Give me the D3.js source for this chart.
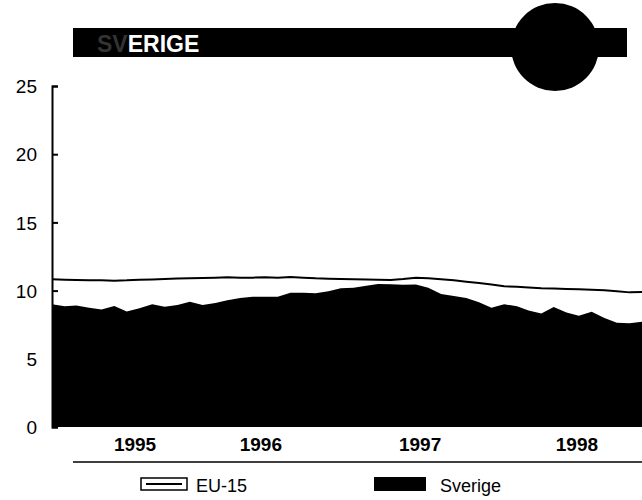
<!DOCTYPE html>
<html>
<head>
<meta charset="utf-8">
<script src="https://cdn.jsdelivr.net/npm/d3@7"></script>
<style>
  body { margin: 0; background: #fff; }
  svg { display: block; font-family: "Liberation Sans", Arial, sans-serif; }
</style>
</head>
<body>
<svg id="chart"></svg>
<script>
var width = 642,
  height = 500;

// monthly unemployment rate, Jan 1995 - Dec 1998
var months = d3.timeMonths(new Date(1995, 0, 1), new Date(1999, 0, 1));

var sverige = [
  9.0, 8.85, 8.9, 8.75, 8.62, 8.87, 8.46, 8.7, 9.0, 8.82, 8.95, 9.19,
  8.94, 9.1, 9.3, 9.45, 9.55, 9.55, 9.55, 9.85, 9.85, 9.8, 9.95, 10.17,
  10.2, 10.35, 10.48, 10.46, 10.42, 10.44, 10.2, 9.75, 9.6, 9.45, 9.15, 8.75,
  9.0, 8.85, 8.55, 8.33, 8.8, 8.4, 8.15, 8.45, 8.0, 7.65, 7.6, 7.72
];

var eu15 = [
  10.83, 10.8, 10.78, 10.75, 10.75, 10.73, 10.75, 10.8, 10.82, 10.85, 10.88, 10.9,
  10.92, 10.95, 10.97, 10.95, 10.95, 10.97, 10.95, 11.0, 10.95, 10.9, 10.87, 10.85,
  10.83, 10.82, 10.8, 10.78, 10.85, 10.95, 10.9, 10.83, 10.75, 10.65, 10.55, 10.45,
  10.32, 10.28, 10.22, 10.17, 10.15, 10.12, 10.1, 10.07, 10.03, 9.95, 9.87, 9.9
];

var yTicks = [0, 5, 10, 15, 20, 25];
var yearLabels = ['1995', '1996', '1997', '1998'];
// where the year labels sit
var yearTickDates = [
  new Date(1995, 6, 20), new Date(1996, 4, 20), new Date(1997, 5, 10), new Date(1998, 5, 25)
];

var svg = d3.select('#chart')
  .attr('width', width)
  .attr('height', height);

var x = d3.scaleTime()
  .domain([months[0], months[months.length - 1]])
  .range([52, 642]);

var y = d3.scaleLinear()
  .domain([0, 25])
  .range([427, 86]);

var data = months.map(function(m, i) {
  return { date: m, se: sverige[i], eu: eu15[i] };
});

// title bar
svg.append('rect')
  .attr('x', 73)
  .attr('y', 28)
  .attr('width', 554)
  .attr('height', 29)
  .attr('fill', '#000');

var title = svg.append('text')
  .attr('x', 97)
  .attr('y', 52)
  .attr('font-size', 23)
  .attr('font-weight', 'bold');
title.append('tspan').attr('fill', '#333').text('SV');
title.append('tspan').attr('fill', '#fff').text('ERIGE');

svg.append('circle')
  .attr('cx', 555)
  .attr('cy', 47)
  .attr('r', 44)
  .attr('fill', '#000');

// area for Sverige
svg.append('path')
  .datum(data)
  .attr('fill', '#000')
  .attr('d', d3.area()
    .x(function(d) { return x(d.date); })
    .y0(y(0))
    .y1(function(d) { return y(d.se); }));

// EU-15 line
svg.append('path')
  .datum(data)
  .attr('fill', 'none')
  .attr('stroke', '#000')
  .attr('stroke-width', 2)
  .attr('d', d3.line()
    .x(function(d) { return x(d.date); })
    .y(function(d) { return y(d.eu); }));

// y axis
var yAxis = svg.append('g')
  .attr('transform', 'translate(52,0)')
  .call(d3.axisRight(y)
    .tickValues(yTicks)
    .tickSize(6)
    .tickSizeOuter(6));
yAxis.select('.domain').attr('stroke-width', 2);
yAxis.selectAll('line').attr('stroke-width', 2);
yAxis.selectAll('text')
  .attr('x', -15)
  .attr('dy', '0.35em')
  .attr('text-anchor', 'end')
  .attr('font-size', 19)
  .attr('font-family', '"Liberation Sans", Arial, sans-serif')
  .attr('fill', '#000');

// year labels
var xAxis = svg.append('g')
  .attr('transform', 'translate(0,' + 434 + ')')
  .call(d3.axisBottom(x)
    .tickValues(yearTickDates)
    .tickSize(0)
    .tickFormat(function(d, i) { return yearLabels[i]; }));
xAxis.select('.domain').remove();
xAxis.selectAll('text')
  .attr('font-size', 19)
  .attr('font-weight', 'bold')
  .attr('font-family', '"Liberation Sans", Arial, sans-serif')
  .attr('fill', '#000');

svg.append('line')
  .attr('x1', 73)
  .attr('x2', 642)
  .attr('y1', 462)
  .attr('y2', 462)
  .attr('stroke', '#000')
  .attr('stroke-width', 1.5);

// legend
var legend = svg.append('g').attr('font-size', 18);

legend.append('rect')
  .attr('x', 141)
  .attr('y', 478)
  .attr('width', 46)
  .attr('height', 12)
  .attr('fill', '#fff')
  .attr('stroke', '#000')
  .attr('stroke-width', 1.5);
legend.append('line')
  .attr('x1', 146)
  .attr('x2', 182)
  .attr('y1', 484)
  .attr('y2', 484)
  .attr('stroke', '#000')
  .attr('stroke-width', 2);
legend.append('text')
  .attr('x', 196)
  .attr('y', 492)
  .text('EU-15');

legend.append('rect')
  .attr('x', 374)
  .attr('y', 477)
  .attr('width', 52)
  .attr('height', 14)
  .attr('fill', '#000');
legend.append('text')
  .attr('x', 440)
  .attr('y', 492)
  .text('Sverige');
</script>
</body>
</html>
